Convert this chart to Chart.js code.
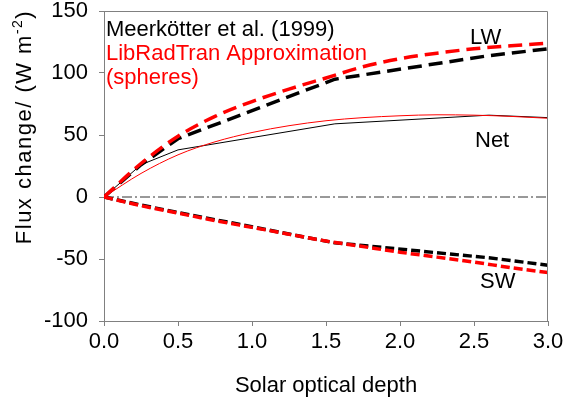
<!DOCTYPE html>
<html><head><meta charset="utf-8">
<script src="https://cdn.jsdelivr.net/npm/chart.js@4.4.0/dist/chart.umd.min.js"></script>
<style>html,body{margin:0;padding:0;background:#fff;overflow:hidden}#wrap{width:564px;height:406px;position:relative}</style>
</head><body><div id="wrap"><canvas id="c" width="564" height="406"></canvas></div>
<script>
const xTicks = [0.0, 0.5, 1.0, 1.5, 2.0, 2.5, 3.0];
const yTicks = [-100, -50, 0, 50, 100, 150];
// Meerkötter et al. (1999)
const meerDepth = [0, 0.25, 0.5, 1.56, 2.6, 3.0];
const meerLW  = [0, 26, 47, 95, 114, 119.5];
const meerSW  = [0, -6.5, -12.5, -37, -49, -55];
const meerNet = [0, 26, 38, 59, 66, 64];
// LibRadTran Approximation (spheres)
const libDepth = [0, 0.25, 0.5, 0.75, 1.0, 1.25, 1.5, 1.75, 2.0, 2.25, 2.5, 2.75, 3.0];
const libLW  = [0, 27, 49, 65, 77, 87, 96, 105, 111.5, 116, 119.5, 122, 124];
const libSW  = [0, -7, -13, -19, -24.5, -30, -35.5, -40, -44.5, -48.5, -52.5, -57, -61];
const libNet = [0, 19, 34, 44.5, 52, 57.5, 61.5, 64, 65.5, 66.3, 66, 65, 63.5];
const zeroLine = [0, 3.0];

const FONT = '"Liberation Sans", Arial, sans-serif';
const RED = 'rgb(255,0,0)';
const pts = (xs, ys) => xs.map((x, i) => ({x: x, y: ys[i]}));

const annot = {
  id: 'annot',
  afterDraw(chart) {
    const ctx = chart.ctx, a = chart.chartArea;
    ctx.save();
    ctx.strokeStyle = '#808080';
    ctx.lineWidth = 1;
    ctx.beginPath();
    ctx.moveTo(Math.round(a.left) + 0.5, Math.round(a.top) + 0.5);
    ctx.lineTo(Math.round(a.right) - 0.5, Math.round(a.top) + 0.5);
    ctx.lineTo(Math.round(a.right) - 0.5, Math.round(a.bottom) + 0.5);
    ctx.stroke();
    ctx.font = '22px ' + FONT;
    ctx.textBaseline = 'alphabetic';
    ctx.textAlign = 'left';
    ctx.fillStyle = '#000';
    ctx.fillText('Meerkötter et al. (1999)', 106, 36);
    ctx.fillStyle = RED;
    ctx.fillText('LibRadTran Approximation', 106, 60);
    ctx.fillText('(spheres)', 106, 84);
    ctx.fillStyle = '#000';
    ctx.fillText('LW', 470, 44);
    ctx.fillText('Net', 475, 147);
    ctx.fillText('SW', 480, 288);
    // x title
    ctx.textAlign = 'center';
    ctx.fillText('Solar optical depth', (a.left + a.right) / 2, 392);
    // y title with superscript
    ctx.translate(31, 127);
    ctx.rotate(-Math.PI / 2);
    ctx.textAlign = 'left';
    try { ctx.letterSpacing = '1.5px'; } catch (e) {}
    const p1 = 'Flux change/ (W m', sup = '-2', p2 = ')';
    ctx.font = '22px ' + FONT;
    const w1 = ctx.measureText(p1).width, w3 = ctx.measureText(p2).width;
    ctx.font = '14px ' + FONT;
    const w2 = ctx.measureText(sup).width;
    let u = -(w1 + w2 + w3) / 2;
    ctx.font = '22px ' + FONT;
    ctx.fillText(p1, u, 0); u += w1;
    ctx.font = '14px ' + FONT;
    ctx.fillText(sup, u, -9); u += w2;
    ctx.font = '22px ' + FONT;
    ctx.fillText(p2, u, 0);
    ctx.restore();
  }
};

new Chart(document.getElementById('c'), {
  type: 'line',
  data: {
    datasets: [
      {data: pts(libDepth, libLW), borderColor: RED, borderWidth: 3.5, borderDash: [14, 7], cubicInterpolationMode: 'monotone', tension: 0.4},
      {data: pts(libDepth, libSW), borderColor: RED, borderWidth: 3.5, borderDash: [9, 4], cubicInterpolationMode: 'monotone', tension: 0.4},
      {data: pts(libDepth, libNet), borderColor: RED, borderWidth: 1, cubicInterpolationMode: 'monotone', tension: 0.4},
      {data: pts(meerDepth, meerLW), borderColor: '#000', borderWidth: 3.5, borderDash: [14, 7], tension: 0},
      {data: pts(meerDepth, meerSW), borderColor: '#000', borderWidth: 3.5, borderDash: [9, 4], tension: 0},
      {data: pts(meerDepth, meerNet), borderColor: '#000', borderWidth: 1, tension: 0},
      {data: pts(zeroLine, [0, 0]), borderColor: '#333', borderWidth: 1, borderDash: [10, 3, 2, 3], tension: 0}
    ]
  },
  options: {
    responsive: false,
    animation: false,
    events: [],
    elements: {point: {radius: 0}, line: {fill: false}},
    layout: {padding: {left: 0, top: 11, right: 16, bottom: 0}},
    plugins: {legend: {display: false}, tooltip: {enabled: false}},
    scales: {
      x: {
        type: 'linear', min: 0, max: 3,
        afterBuildTicks: s => { s.ticks = xTicks.map(v => ({value: v})); },
        afterFit: s => { s.height = 85; s.paddingLeft = 0; s.paddingRight = 0; },
        ticks: {callback: v => Number(v).toFixed(1), color: '#000', font: {family: FONT, size: 22, lineHeight: 1}, padding: 5, maxRotation: 0, autoSkip: false},
        grid: {drawOnChartArea: false, drawTicks: true, tickLength: 5, color: '#808080'},
        border: {color: '#808080'}
      },
      y: {
        type: 'linear', min: -100, max: 150,
        afterBuildTicks: s => { s.ticks = yTicks.map(v => ({value: v})); },
        afterFit: s => { s.width = 104; s.paddingTop = 0; s.paddingBottom = 0; },
        ticks: {color: '#000', font: {family: FONT, size: 22, lineHeight: 1}, padding: 11, autoSkip: false},
        grid: {drawOnChartArea: false, drawTicks: true, tickLength: 5, color: '#808080'},
        border: {color: '#808080'}
      }
    }
  },
  plugins: [annot]
});
</script>
</body></html>
